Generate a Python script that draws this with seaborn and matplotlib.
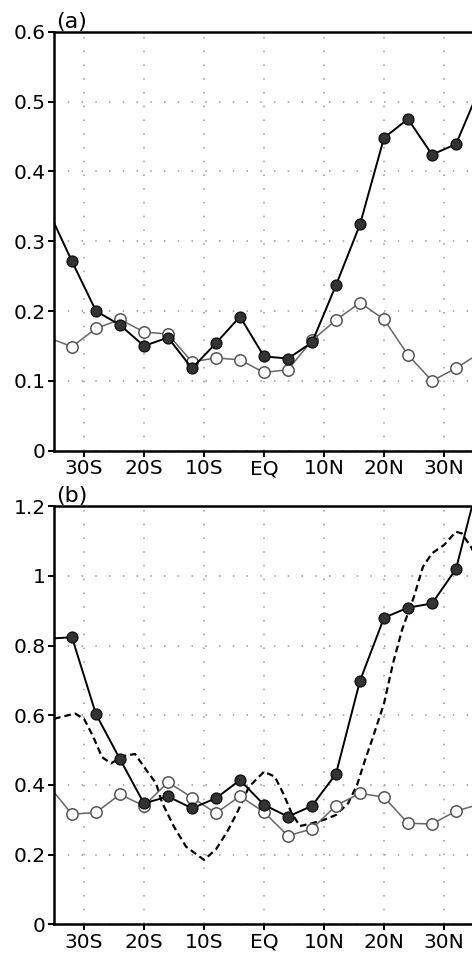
import numpy as np
import matplotlib
matplotlib.use("Agg")
import matplotlib.pyplot as plt
import seaborn as sns

# latitudes of the marked points (4-degree steps), plus edge points outside the frame
lats = [-36, -32, -28, -24, -20, -16, -12, -8, -4, 0, 4, 8, 12, 16, 20, 24, 28, 32, 36]

# panel (a)
a_filled = [0.345, 0.271, 0.200, 0.180, 0.150, 0.162, 0.118, 0.154, 0.192, 0.135, 0.132,
            0.155, 0.237, 0.324, 0.448, 0.475, 0.424, 0.439, 0.52]
a_open = [0.162, 0.149, 0.175, 0.188, 0.170, 0.167, 0.127, 0.133, 0.130, 0.112, 0.116,
          0.158, 0.187, 0.212, 0.188, 0.137, 0.100, 0.118, 0.14]

# panel (b)
b_filled = [0.82, 0.824, 0.603, 0.474, 0.347, 0.367, 0.333, 0.362, 0.414, 0.343, 0.309,
            0.340, 0.432, 0.699, 0.880, 0.909, 0.921, 1.020, 1.29]
b_open = [0.40, 0.316, 0.321, 0.373, 0.340, 0.408, 0.364, 0.319, 0.368, 0.322, 0.254,
          0.274, 0.341, 0.376, 0.365, 0.290, 0.288, 0.325, 0.345]

# dashed reference curve in panel (b)
dash_lat = [-35, -31.5, -30, -28.5, -27, -25.5, -23.5, -21.5, -19.5, -18, -17, -15, -13,
            -10, -8, -6, -4.5, -2.5, 0, 1.8, 3.2, 4.6, 6, 8, 10, 12, 14, 15.5, 17, 18,
            20, 21.5, 23, 25, 26.5, 28, 30, 32, 33, 34.6, 35.5]
dash_val = [0.59, 0.605, 0.59, 0.54, 0.48, 0.462, 0.483, 0.489, 0.44, 0.405, 0.35, 0.28,
            0.223, 0.185, 0.215, 0.27, 0.32, 0.395, 0.438, 0.424, 0.376, 0.319, 0.282,
            0.29, 0.30, 0.314, 0.347, 0.40, 0.48, 0.529, 0.634, 0.749, 0.845, 0.941,
            1.027, 1.065, 1.089, 1.127, 1.122, 1.08, 1.05]

xticks = [-30, -20, -10, 0, 10, 20, 30]
xticklabels = ["30S", "20S", "10S", "EQ", "10N", "20N", "30N"]

sns.set_style("white")
plt.rcParams["font.family"] = ["DejaVu Sans"]
plt.rcParams["text.color"] = "black"

fig = plt.figure(figsize=(4.72, 9.55), dpi=100)
ax_a = fig.add_axes([54 / 472, (955 - 450.7) / 955, 420 / 472, 419 / 955])
ax_b = fig.add_axes([54 / 472, (955 - 924.3) / 955, 420 / 472, 418 / 955])

filled_kw = dict(color="black", linewidth=1.4, marker="o", markersize=7.8,
                 markerfacecolor="#333333", markeredgecolor="#111111", markeredgewidth=1.0)
open_kw = dict(color="#666666", linewidth=1.1, marker="o", markersize=8.2,
               markerfacecolor="white", markeredgecolor="#555555", markeredgewidth=1.1)


def style_axes(ax, ymax, ystep, label):
    ax.set_xlim(-35, 35)
    ax.set_ylim(0, ymax)
    ax.set_xticks(xticks)
    ax.set_xticklabels(xticklabels)
    yt = np.round(np.arange(0, ymax + ystep / 2, ystep), 2)
    ax.set_yticks(yt)
    ax.set_yticklabels([("%g" % v) for v in yt])
    ax.grid(True, color="#999999", linestyle=(0, (1, 8)), linewidth=1.1)
    for s in ["left", "top", "bottom"]:
        ax.spines[s].set_linewidth(1.8)
        ax.spines[s].set_color("black")
    ax.spines["right"].set_visible(False)
    ax.tick_params(axis="both", direction="out", length=4, width=1.4, colors="black",
                   labelsize=14.5, pad=2, bottom=True, left=True)
    ax.set_xlabel("")
    ax.set_ylabel("")
    ax.text(0.005, 1.0, label, transform=ax.transAxes, fontsize=16, color="black",
            va="bottom", ha="left")


sns.lineplot(x=lats, y=a_open, ax=ax_a, sort=False, **open_kw)
sns.lineplot(x=lats, y=a_filled, ax=ax_a, sort=False, **filled_kw)
style_axes(ax_a, 0.6, 0.1, "(a)")

sns.lineplot(x=dash_lat, y=dash_val, ax=ax_b, sort=False, color="black", linewidth=1.6,
             linestyle=(0, (3, 1.8)))
sns.lineplot(x=lats, y=b_open, ax=ax_b, sort=False, **open_kw)
sns.lineplot(x=lats, y=b_filled, ax=ax_b, sort=False, **filled_kw)
style_axes(ax_b, 1.2, 0.2, "(b)")

fig.savefig("out.png", dpi=100)
